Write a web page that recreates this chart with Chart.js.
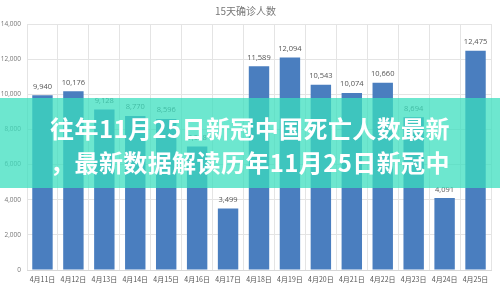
<!DOCTYPE html>
<html>
<head>
<meta charset="utf-8">
<script src="https://cdn.jsdelivr.net/npm/chart.js@4/dist/chart.umd.min.js"></script>
<style>
  html, body { margin: 0; padding: 0; background: #fff; }
  #wrap { position: relative; width: 500px; height: 287px; overflow: hidden; }
  #band {
    position: absolute; left: 0; top: 98px; width: 500px; height: 90px;
    background: rgba(58, 222, 190, 0.74);
  }
  #band p {
    margin: 0; text-align: center; color: #fff;
    font-family: "Noto Sans CJK SC", "Noto Sans", sans-serif;
    font-weight: bold; font-size: 24px; line-height: 34px;
    letter-spacing: 0.4px;
  }
  #band p.first { margin-top: 13px; }
</style>
</head>
<body>
<div id="wrap">
  <canvas id="chart" width="500" height="287"></canvas>
  <div id="band">
    <p class="first">往年11月25日新冠中国死亡人数最新</p>
    <p>，最新数据解读历年11月25日新冠中</p>
  </div>
</div>
<script>
// ================= DATA =================

const days = ["4月11日", "4月12日", "4月13日", "4月14日", "4月15日", "4月16日", "4月17日",
  "4月18日", "4月19日", "4月20日", "4月21日", "4月22日", "4月23日", "4月24日", "4月25日"];

const confirmed = [9940, 10176, 9128, 8770, 8596, 7028, 3499,
  11589, 12094, 10543, 10074, 10660, 8694, 4091, 12475];

const yTicks = [0, 2000, 4000, 6000, 8000, 10000, 12000, 14000];

// ================= VALUE LABELS =================

const valueLabels = {
  id: "valueLabels",
  afterDatasetsDraw(chart) {
    const ctx = chart.ctx;
    const meta = chart.getDatasetMeta(0);
    ctx.save();
    ctx.font = "7.5px 'Open Sans', sans-serif";
    ctx.fillStyle = "#555";
    ctx.textAlign = "center";
    ctx.textBaseline = "bottom";
    meta.data.forEach((bar, i) => {
      ctx.fillText(confirmed[i].toLocaleString("en-US"), bar.x, bar.y - 5);
    });
    ctx.restore();
  }
};

const ctx = document.getElementById("chart").getContext("2d");
const chart = new Chart(ctx, {
  type: "bar",
  data: {
    labels: days,
    datasets: [{
      data: confirmed,
      backgroundColor: "#4a7ebf",
      barPercentage: 0.66,
      categoryPercentage: 1
    }]
  },
  options: {
    responsive: false,
    animation: false,
    layout: { padding: { top: 2, right: 9, left: 0, bottom: 0 } },
    plugins: {
      legend: { display: false },
      tooltip: { enabled: false },
      title: {
        display: true,
        text: "15天确诊人数",
        color: "#777",
        font: { size: 10, family: "'Noto Sans CJK SC', sans-serif", weight: "normal" },
        padding: { top: 3, bottom: 7 }
      }
    },
    scales: {
      x: {
        grid: { color: "#e4e4e4", offset: true, drawTicks: false },
        border: { color: "#d8d8d8" },
        ticks: {
          color: "#555",
          font: { size: 7, family: "'Noto Sans CJK SC', sans-serif" },
          maxRotation: 0,
          padding: 5
        },
        afterFit(scale) { scale.height = 17; }
      },
      y: {
        min: 0,
        max: 14000,
        afterBuildTicks(scale) { scale.ticks = yTicks.map(v => ({ value: v })); },
        grid: { color: "#e4e4e4", drawTicks: false },
        border: { display: false },
        ticks: {
          color: "#777",
          font: { size: 6.5, family: "'Open Sans', sans-serif" },
          padding: 6,
          callback: v => v.toLocaleString("en-US")
        },
        afterFit(scale) { scale.width = 27; }
      }
    }
  },
  plugins: [valueLabels]
});
</script>
</body>
</html>
